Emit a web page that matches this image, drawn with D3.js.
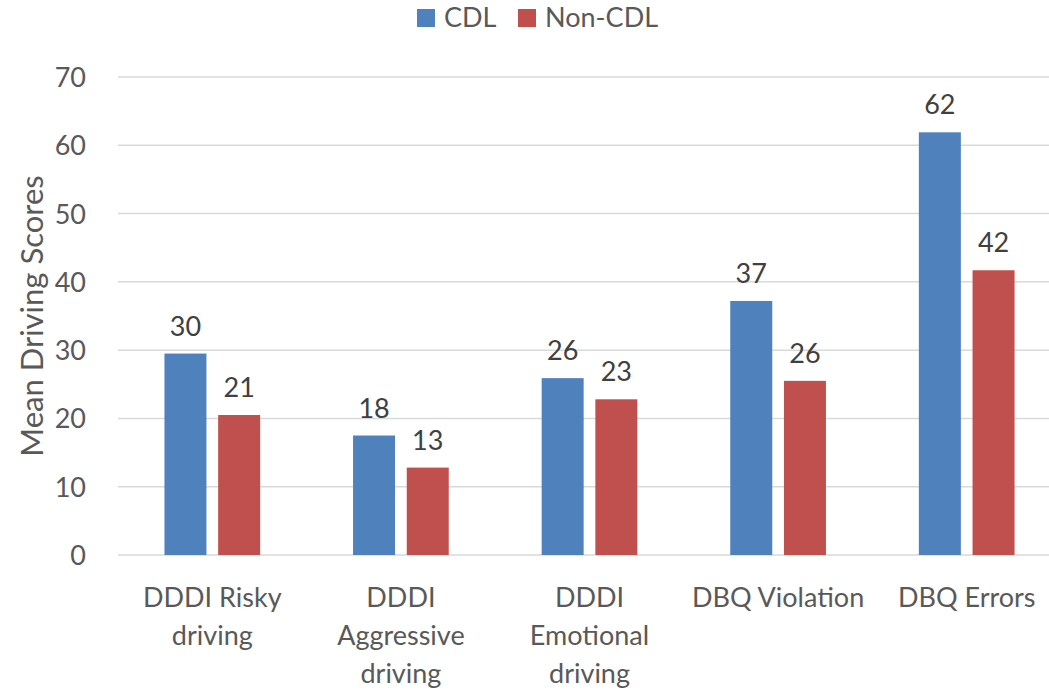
<!DOCTYPE html>
<html>
<head>
<meta charset="utf-8">
<script src="https://cdn.jsdelivr.net/npm/d3@7"></script>
<style>
  body { margin: 0; background: #fff; }
  text { font-family: Lato, "Open Sans", sans-serif; }
</style>
</head>
<body>
<svg></svg>
<script>
// chart data
var categories = ["DDDI Risky\ndriving", "DDDI\nAggressive\ndriving", "DDDI\nEmotional\ndriving", "DBQ Violation", "DBQ Errors"];
var series = ["CDL", "Non-CDL"];
var cdlValues = [29.5, 17.5, 25.9, 37.2, 61.9];
var nonCdlValues = [20.5, 12.8, 22.8, 25.5, 41.7];
var yTicks = [0, 10, 20, 30, 40, 50, 60, 70];
var colors = ["#4F81BD", "#C0504D"];

var svgWidth = 1049, svgHeight = 690;
// plot area edges (don't use "top", it's window.top)
var plotLeft = 118, plotRight = 1061, plotTop = 77, plotBottom = 555;

var svg = d3.select("svg")
  .attr("width", svgWidth)
  .attr("height", svgHeight);

var y = d3.scaleLinear().domain([0, 70]).range([plotBottom, plotTop]);
var x0 = d3.scaleBand().domain(categories).range([plotLeft, plotRight]);
var x1 = d3.scaleBand().domain(series).range([0, x0.bandwidth()])
  .paddingInner(0.218).paddingOuter(0.865);

// gridlines
svg.append("g").selectAll("line")
  .data(yTicks)
  .enter().append("line")
  .attr("x1", plotLeft).attr("x2", svgWidth)
  .attr("y1", function(d){ return y(d); })
  .attr("y2", function(d){ return y(d); })
  .attr("stroke", "#D9D9D9")
  .attr("stroke-width", 1.5);

// y axis labels
var yAxis = svg.append("g")
  .attr("transform", "translate(" + (plotLeft - 4) + ",0)")
  .call(d3.axisLeft(y).tickValues(yTicks).tickSize(0).tickPadding(28));
yAxis.select(".domain").remove();
yAxis.selectAll("text")
  .attr("fill", "#595959")
  .style("font-size", "27px")
  .attr("dy", "0.35em");

// y title
svg.append("text")
  .attr("transform", "translate(43," + ((plotTop + plotBottom) / 2) + ") rotate(-90)")
  .attr("text-anchor", "middle")
  .attr("fill", "#595959")
  .style("font-size", "31px")
  .text("Mean Driving Scores");

// bars
var rows = categories.map(function(c, i){
  return [{ s: series[0], v: cdlValues[i], c: colors[0] }, { s: series[1], v: nonCdlValues[i], c: colors[1] }];
});

var groups = svg.append("g").selectAll("g")
  .data(rows)
  .enter().append("g")
  .attr("transform", function(d, i){ return "translate(" + x0(categories[i]) + ",0)"; });

groups.selectAll("rect")
  .data(function(d){ return d; })
  .enter().append("rect")
  .attr("x", function(d){ return x1(d.s); })
  .attr("y", function(d){ return y(d.v); })
  .attr("width", x1.bandwidth())
  .attr("height", function(d){ return plotBottom - y(d.v); })
  .attr("fill", function(d){ return d.c; });

// value labels
groups.selectAll("text")
  .data(function(d){ return d; })
  .enter().append("text")
  .attr("x", function(d){ return x1(d.s) + x1.bandwidth() / 2; })
  .attr("y", function(d){ return y(d.v) - 18; })
  .attr("text-anchor", "middle")
  .attr("fill", "#404040")
  .style("font-size", "27px")
  .text(function(d){ return Math.round(d.v); });

// category labels
var xAxis = svg.append("g")
  .attr("transform", "translate(0," + plotBottom + ")")
  .call(d3.axisBottom(x0).tickSize(0).tickFormat(""));
xAxis.select(".domain").remove();
xAxis.selectAll(".tick").each(function(d){
  var t = d3.select(this).append("text")
    .attr("text-anchor", "middle")
    .attr("fill", "#595959")
    .style("font-size", "27px");
  d.split("\n").forEach(function(line, i){
    t.append("tspan").attr("x", 0).attr("y", 52 + i * 38).text(line);
  });
});

// legend
var legend = svg.append("g");
var legendX = [417, 518];
series.forEach(function(s, i){
  legend.append("rect")
    .attr("x", legendX[i]).attr("y", 9)
    .attr("width", 18).attr("height", 18)
    .attr("fill", colors[i]);
  legend.append("text")
    .attr("x", legendX[i] + 27).attr("y", 27)
    .attr("fill", "#595959")
    .style("font-size", "27px")
    .text(s);
});
</script>
</body>
</html>
